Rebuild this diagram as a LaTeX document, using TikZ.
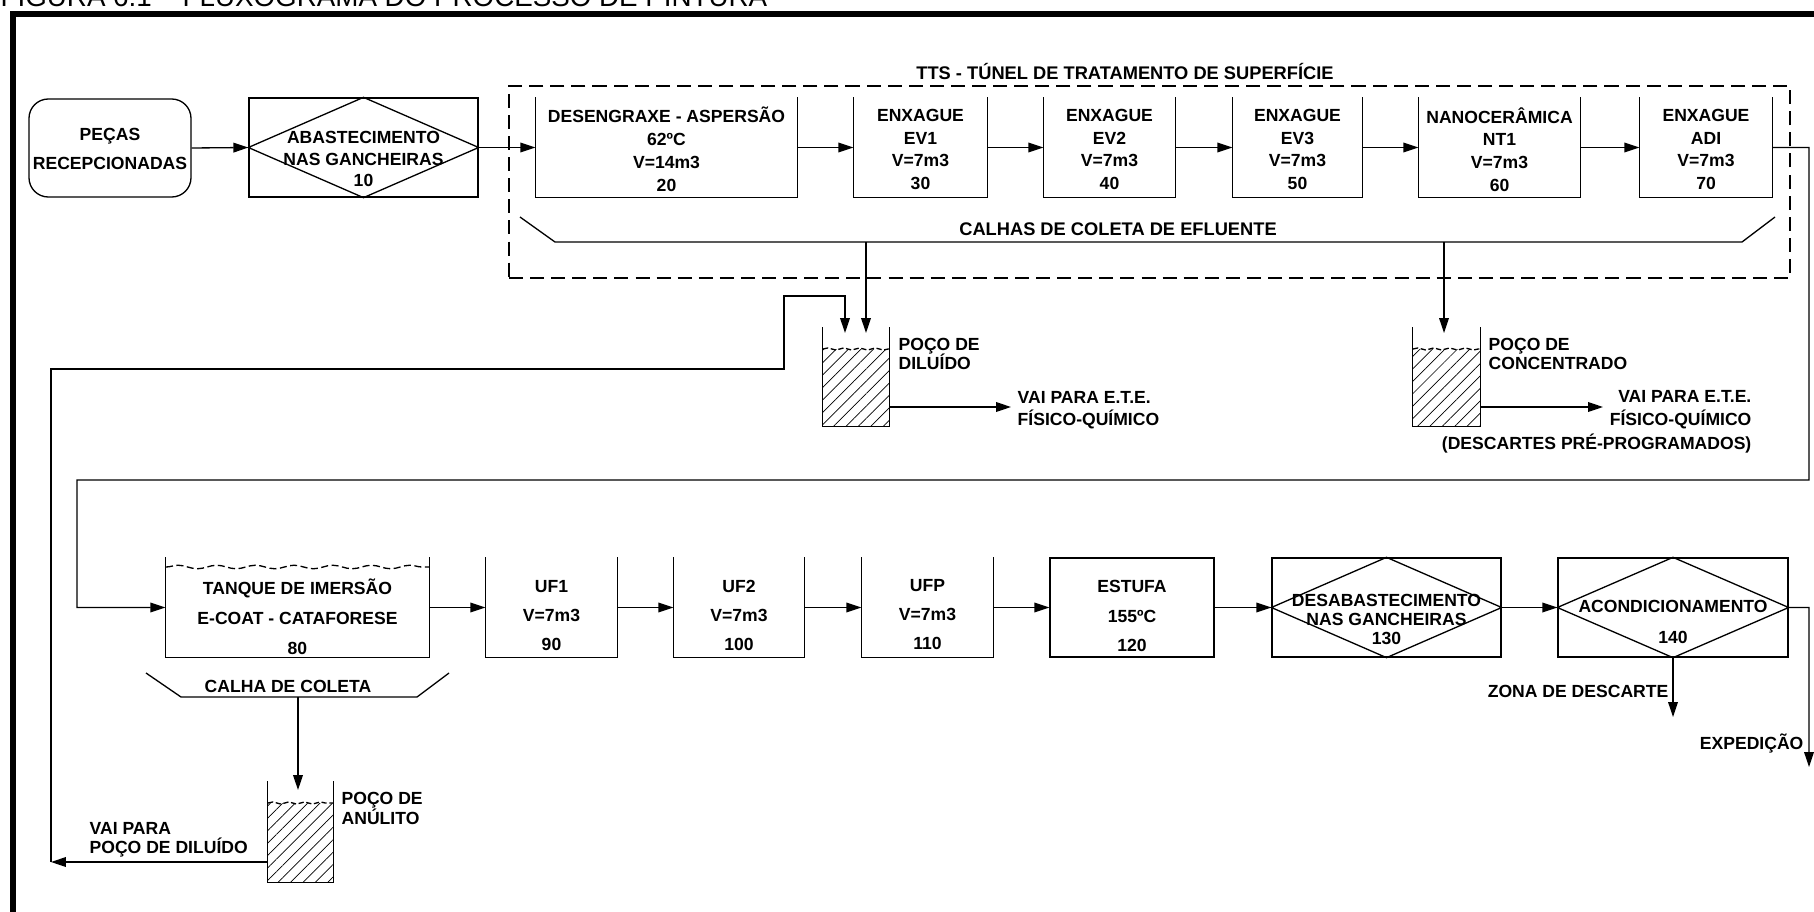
\documentclass[tikz,border=0pt]{standalone}
\usepackage{fontspec}
\setmainfont{Liberation Sans}
\usetikzlibrary{arrows.meta,patterns.meta,decorations.pathmorphing,fit}
\tikzset{
  lbl/.style={font=\bfseries\fontsize{10}{13}\selectfont, align=center, inner sep=0pt},
  lblL/.style={lbl, align=left},
  lblR/.style={lbl, align=right},
  arr/.style={-{Triangle[length=8.5pt,width=5.5pt]}},
  area/.style={inner sep=0pt, draw=none},
  closedbox/.style={inner sep=0pt, draw},
  hatch/.style={pattern={Lines[angle=45,distance=5pt,line width=0.4pt]}},
  liquid/.style={dash pattern=on 3pt off 1.5pt, decorate, decoration={snake,amplitude=0.6pt,segment length=9pt}},
  ttsbox/.style={inner sep=0pt, draw, dash pattern=on 8pt off 4pt},
}
\newcommand\opentank[1]{\draw (#1.north west) -- (#1.south west) -- (#1.south east) -- (#1.north east);}
\newcommand\diamondin[1]{\draw (#1.west) -- (#1.north) -- (#1.east) -- (#1.south) -- cycle;}
\begin{document}
\begin{tikzpicture}[x=0.02cm,y=-0.02cm,line width=0.75pt]
\useasboundingbox (0,0) rectangle (1814,912);
% frame and title
\draw[line width=3.6pt] (13,930) -- (13,14) -- (1830,14);
\node[anchor=base west, inner sep=0pt, font=\fontsize{15.8}{18}\selectfont] (title) at (0,7) {FIGURA 6.1 – FLUXOGRAMA DO PROCESSO DE PINTURA};

% ---------- row 1 ----------
\node[draw, rounded corners=11pt, fit={(29,99) (191,197)}, inner sep=0pt] (p0) {};
\node[lbl, font=\bfseries\fontsize{10}{16}\selectfont] (tp0) at (110,149) {PEÇAS\\RECEPCIONADAS};

\node[closedbox, fit={(249,98) (478,197)}] (b10) {};
\diamondin{b10}
\node[lbl, font=\bfseries\fontsize{10}{12}\selectfont] (t10) at (363.5,159) {ABASTECIMENTO\\NAS GANCHEIRAS\\10};

\node[ttsbox, fit={(509,86) (1790,278)}] (tts) {};
\node[lbl, font=\bfseries\fontsize{10.4}{13}\selectfont] (ttstitle) at (1125,71) {TTS - TÚNEL DE TRATAMENTO DE SUPERFÍCIE};

\node[area, fit={(536,98) (797,197)}] (b20) {}; \opentank{b20}
\node[lbl] (t20) at (666.5,149.5) {DESENGRAXE - ASPERSÃO\\62ºC\\V=14m3\\20};
\node[area, fit={(854,98) (987,197)}] (b30) {}; \opentank{b30}
\node[lbl] (t30) at (920.5,149.5) {ENXAGUE\\EV1\\V=7m3\\30};
\node[area, fit={(1044,98) (1175,197)}] (b40) {}; \opentank{b40}
\node[lbl] (t40) at (1109.5,149.5) {ENXAGUE\\EV2\\V=7m3\\40};
\node[area, fit={(1233,98) (1362,197)}] (b50) {}; \opentank{b50}
\node[lbl] (t50) at (1297.5,149.5) {ENXAGUE\\EV3\\V=7m3\\50};
\node[area, fit={(1419,98) (1580,197)}] (b60) {}; \opentank{b60}
\node[lbl] (t60) at (1499.5,149.5) {NANOCERÂMICA\\NT1\\V=7m3\\60};
\node[area, fit={(1640,98) (1772,197)}] (b70) {}; \opentank{b70}
\node[lbl] (t70) at (1706,149.5) {ENXAGUE\\ADI\\V=7m3\\70};

\draw[arr] (p0.east) -- (b10.west);
\draw[arr] (b10.east) -- (b20.west);
\draw[arr] (b20.east) -- (b30.west);
\draw[arr] (b30.east) -- (b40.west);
\draw[arr] (b40.east) -- (b50.west);
\draw[arr] (b50.east) -- (b60.west);
\draw[arr] (b60.east) -- (b70.west);

% calhas
\draw (520,217) -- (555,242) -- (1742,242) -- (1775,217);
\node[lbl, font=\bfseries\fontsize{10.4}{13}\selectfont] (tcal) at (1118,229) {CALHAS DE COLETA DE EFLUENTE};
\coordinate (c1) at (866,242); \coordinate (c1e) at (866,333);
\coordinate (c2) at (1444,242); \coordinate (c2e) at (1444,333);
\draw[arr] (c1) -- (c1e);
\draw[arr] (c2) -- (c2e);

% poco de diluido
\node[area, fit={(823,328) (889,426)}] (pd) {};
\fill[hatch] (823,349) rectangle (889,426);
\draw[liquid] (823,349) -- (889,349);
\opentank{pd}
\node[lblL, font=\bfseries\fontsize{10}{11.3}\selectfont, anchor=west] (tpd) at (898,354) {POÇO DE\\DILUÍDO};
\coordinate (pdo) at (889,407); \coordinate (pde) at (1011,407);
\draw[arr] (pdo) -- (pde);
\node[lblL, font=\bfseries\fontsize{10}{12.5}\selectfont, anchor=west] (tpde) at (1017,410) {VAI PARA E.T.E.\\FÍSICO-QUÍMICO};

% poco de concentrado
\node[area, fit={(1413,328) (1480,426)}] (pc) {};
\fill[hatch] (1413,349) rectangle (1480,426);
\draw[liquid] (1413,349) -- (1480,349);
\opentank{pc}
\node[lblL, font=\bfseries\fontsize{10}{11.3}\selectfont, anchor=west] (tpc) at (1488,354) {POÇO DE\\CONCENTRADO};
\coordinate (pco) at (1480,407); \coordinate (pce) at (1603,407);
\draw[arr] (pco) -- (pce);
\node[lblR, font=\bfseries\fontsize{10}{13.3}\selectfont, anchor=east] (tpce) at (1752,421.5) {VAI PARA E.T.E.\\FÍSICO-QUÍMICO\\(DESCARTES PRÉ-PROGRAMADOS)};

% ---------- row 2 ----------
\node[area, fit={(166,558) (429,657)}] (b80) {}; \opentank{b80}
\draw[dash pattern=on 4pt off 2pt, decorate, decoration={snake,amplitude=1pt,segment length=22pt}] (166,567) -- (429,567);
\node[lbl, font=\bfseries\fontsize{10}{17}\selectfont] (t80) at (297.5,617) {TANQUE DE IMERSÃO\\E-COAT - CATAFORESE\\80};
\node[area, fit={(486,558) (617,657)}] (b90) {}; \opentank{b90}
\node[lbl, font=\bfseries\fontsize{10}{16.5}\selectfont] (t90) at (551.5,616) {UF1\\V=7m3\\90};
\node[area, fit={(674,558) (804,657)}] (b100) {}; \opentank{b100}
\node[lbl, font=\bfseries\fontsize{10}{16.5}\selectfont] (t100) at (739,615) {UF2\\V=7m3\\100};
\node[area, fit={(862,558) (993,657)}] (b110) {}; \opentank{b110}
\node[lbl, font=\bfseries\fontsize{10}{16.5}\selectfont] (t110) at (927.5,615) {UFP\\V=7m3\\110};
\node[closedbox, fit={(1050,558) (1214,657)}] (b120) {};
\node[lbl, font=\bfseries\fontsize{10}{17}\selectfont] (t120) at (1132,616) {ESTUFA\\155ºC\\120};
\node[closedbox, fit={(1272,558) (1501,657)}] (b130) {};
\diamondin{b130}
\node[lbl, font=\bfseries\fontsize{10}{10.8}\selectfont] (t130) at (1386.5,619) {DESABASTECIMENTO\\NAS GANCHEIRAS\\130};
\node[closedbox, fit={(1558,558) (1788,657)}] (b140) {};
\diamondin{b140}
\node[lbl, font=\bfseries\fontsize{10}{17.6}\selectfont] (t140) at (1673,622) {ACONDICIONAMENTO\\140};

\draw[arr] (b80.east) -- (b90.west);
\draw[arr] (b90.east) -- (b100.west);
\draw[arr] (b100.east) -- (b110.west);
\draw[arr] (b110.east) -- (b120.west);
\draw[arr] (b120.east) -- (b130.west);
\draw[arr] (b130.east) -- (b140.west);

% return from ADI to tanque
\coordinate (r1) at (1809,147.5); \coordinate (r2) at (1809,480);
\coordinate (r3) at (77,480); \coordinate (r4) at (77,607.5);
\draw[arr] (b70.east) -- (r1) -- (r2) -- (r3) -- (r4) -- (b80.west);

% calha de coleta
\draw (146,673) -- (181,697) -- (417,697) -- (449,673);
\node[lbl] (tcalha) at (288,686) {CALHA DE COLETA};
\coordinate (ca) at (298,697); \coordinate (cae) at (298,790);
\draw[arr] (ca) -- (cae);

% poco de anulito
\node[area, fit={(268,782) (333,882)}] (pa) {};
\fill[hatch] (268,803) rectangle (333,882);
\draw[liquid] (268,803) -- (333,803);
\opentank{pa}
\node[lblL, font=\bfseries\fontsize{10}{11.3}\selectfont, anchor=west] (tpa) at (341,808.5) {POÇO DE\\ANÚLITO};
\coordinate (pao) at (268,862); \coordinate (l1) at (51,862);
\draw[arr] (pao) -- (l1);
\node[lblL, font=\bfseries\fontsize{10}{11}\selectfont, anchor=west] (tpae) at (89,839.5) {VAI PARA\\POÇO DE DILUÍDO};
\coordinate (l2) at (51,369); \coordinate (l3) at (784,369);
\coordinate (l4) at (784,296); \coordinate (l5) at (845,296); \coordinate (l6) at (845,333);
\draw[arr] (l1) -- (l2) -- (l3) -- (l4) -- (l5) -- (l6);

% outputs
\coordinate (e1) at (1809,607.5); \coordinate (e2) at (1809,767);
\draw[arr] (b140.east) -- (e1) -- (e2);
\node[lbl, anchor=east] (texp) at (1804,743) {EXPEDIÇÃO};
\coordinate (z1) at (1673,717);
\draw[arr] (b140.south) -- (z1);
\node[lbl, anchor=east] (tzona) at (1669,691) {ZONA DE DESCARTE};
\end{tikzpicture}
\end{document}
